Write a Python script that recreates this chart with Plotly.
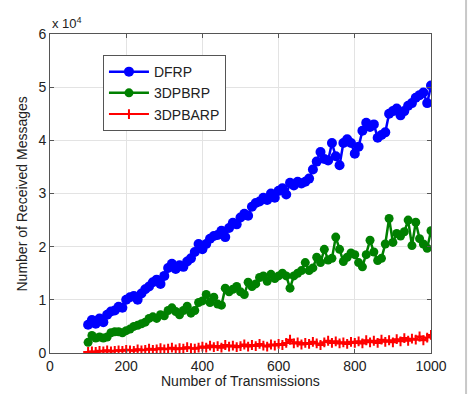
import numpy as np
import plotly.graph_objects as go

# Number of transmissions
x_vals = list(range(100, 1001, 10))

# Number of received messages (units of 10^4)
dfrp = [0.53, 0.62, 0.55, 0.65, 0.58, 0.72, 0.78, 0.80, 0.87, 0.85,
        1.00, 1.05, 1.07, 1.00, 1.12, 1.20, 1.25, 1.33, 1.38, 1.30,
        1.45, 1.60, 1.68, 1.58, 1.65, 1.62, 1.72, 1.78, 1.90, 2.05,
        1.95, 2.05, 2.15, 2.20, 2.22, 2.30, 2.18, 2.35, 2.45, 2.42,
        2.55, 2.62, 2.58, 2.75, 2.82, 2.85, 2.92, 2.88, 3.00, 2.92,
        3.05, 3.10, 2.98, 3.20, 3.15, 3.22, 3.19, 3.22, 3.28, 3.45,
        3.60, 3.78, 3.65, 3.62, 3.95, 3.70, 3.53, 3.95, 4.02, 3.95,
        3.75, 3.88, 4.18, 4.33, 4.25, 4.30, 4.05, 4.10, 4.15, 4.50,
        4.55, 4.60, 4.47, 4.55, 4.65, 4.70, 4.80, 4.85, 4.90, 4.70,
        5.03]
dpbrp = [0.20, 0.33, 0.28, 0.30, 0.28, 0.30, 0.38, 0.40, 0.40, 0.38,
         0.42, 0.45, 0.50, 0.52, 0.55, 0.58, 0.65, 0.68, 0.65, 0.72,
         0.70, 0.80, 0.85, 0.78, 0.72, 0.80, 0.88, 0.75, 0.80, 0.95,
         0.98, 1.10, 0.95, 1.05, 0.92, 0.90, 1.22, 1.15, 1.20, 1.25,
         1.15, 1.10, 1.33, 1.25, 1.30, 1.42, 1.45, 1.35, 1.48, 1.40,
         1.45, 1.50, 1.45, 1.22, 1.45, 1.50, 1.55, 1.70, 1.55, 1.60,
         1.80, 1.70, 1.95, 1.75, 1.78, 2.18, 1.95, 1.72, 1.80, 1.88,
         1.85, 1.70, 1.62, 1.85, 2.12, 1.90, 1.74, 1.78, 2.05, 2.53,
         2.08, 2.25, 2.20, 2.28, 2.50, 2.02, 2.46, 2.15, 2.05, 1.97,
         2.30]
dpbarp = [0.02, 0.03, 0.02, 0.04, 0.03, 0.05, 0.03, 0.04, 0.05, 0.04,
          0.06, 0.05, 0.04, 0.07, 0.05, 0.06, 0.08, 0.06, 0.07, 0.09,
          0.07, 0.08, 0.10, 0.07, 0.09, 0.08, 0.11, 0.09, 0.08, 0.10,
          0.12, 0.10, 0.14, 0.11, 0.13, 0.10, 0.15, 0.12, 0.14, 0.11,
          0.13, 0.16, 0.12, 0.15, 0.13, 0.17, 0.14, 0.12, 0.16, 0.14,
          0.17, 0.15, 0.19, 0.25, 0.18, 0.20, 0.16, 0.19, 0.17, 0.21,
          0.18, 0.15, 0.20, 0.23, 0.19, 0.22, 0.18, 0.20, 0.17, 0.21,
          0.19, 0.22, 0.18, 0.24, 0.20, 0.23, 0.19, 0.25, 0.21, 0.24,
          0.20, 0.26, 0.22, 0.28, 0.23, 0.27, 0.25, 0.31, 0.24, 0.29,
          0.34]

x_ticks = [0, 200, 400, 600, 800, 1000]
y_ticks = [0, 1, 2, 3, 4, 5, 6]

FONT = "Liberation Sans, Arial, sans-serif"
TXT = "#222222"

fig = go.Figure()
fig.add_trace(go.Scatter(x=x_vals, y=dfrp, name="DFRP", mode="lines+markers",
                         line=dict(color="#0000FF", width=2.5),
                         marker=dict(symbol="circle", size=10, color="#0000FF")))
fig.add_trace(go.Scatter(x=x_vals, y=dpbrp, name="3DPBRP", mode="lines+markers",
                         line=dict(color="#008000", width=2.5),
                         marker=dict(symbol="circle", size=9, color="#008000")))
fig.add_trace(go.Scatter(x=x_vals, y=dpbarp, name="3DPBARP", mode="lines+markers",
                         line=dict(color="#FF0000", width=2),
                         marker=dict(symbol="cross-thin", size=7,
                                     line=dict(color="#FF0000", width=2))))

axis_common = dict(showgrid=True, gridcolor="#E3E3E3", gridwidth=1,
                   showline=True, linecolor="#555555", linewidth=1, mirror="ticks",
                   ticks="inside", ticklen=4, tickcolor="#555555", automargin=False,
                   zeroline=False, tickfont=dict(family=FONT, size=14, color=TXT))

fig.update_xaxes(range=[0, 1000], tickvals=x_ticks, **axis_common)
fig.update_yaxes(range=[0, 6], tickvals=y_ticks, **axis_common)

# axis titles placed as annotations for exact positioning
fig.add_annotation(text="Number of Transmissions", xref="paper", yref="paper",
                   x=0.5, y=-0.088, xanchor="center", yanchor="middle", showarrow=False,
                   font=dict(family=FONT, size=14, color=TXT))
fig.add_annotation(text="Number of Received Messages", xref="paper", yref="paper",
                   x=-0.0735, y=0.5, xanchor="center", yanchor="middle", showarrow=False,
                   textangle=-90, font=dict(family=FONT, size=14, color=TXT))

fig.add_annotation(text="x 10<sup>4</sup>", xref="paper", yref="paper", x=0, y=1.0,
                   xanchor="left", yanchor="bottom", showarrow=False,
                   font=dict(family=FONT, size=13, color=TXT), yshift=1)

# light frame edge at the right of the image
fig.add_shape(type="line", xref="paper", yref="paper", x0=1.092, x1=1.092, y0=-0.13, y1=1.11,
              line=dict(color="#C8C8C8", width=2))

fig.update_layout(
    width=472, height=394,
    margin=dict(l=50, r=41, t=34, b=41),
    paper_bgcolor="white", plot_bgcolor="white",
    font=dict(family=FONT, size=14, color=TXT),
    legend=dict(x=0.139, y=0.934, xanchor="left", yanchor="top",
                bgcolor="white", bordercolor="#555555", borderwidth=1,
                font=dict(family=FONT, size=14, color=TXT),
                tracegroupgap=0, itemwidth=40),
    showlegend=True,
)

fig.write_html("out.html")
